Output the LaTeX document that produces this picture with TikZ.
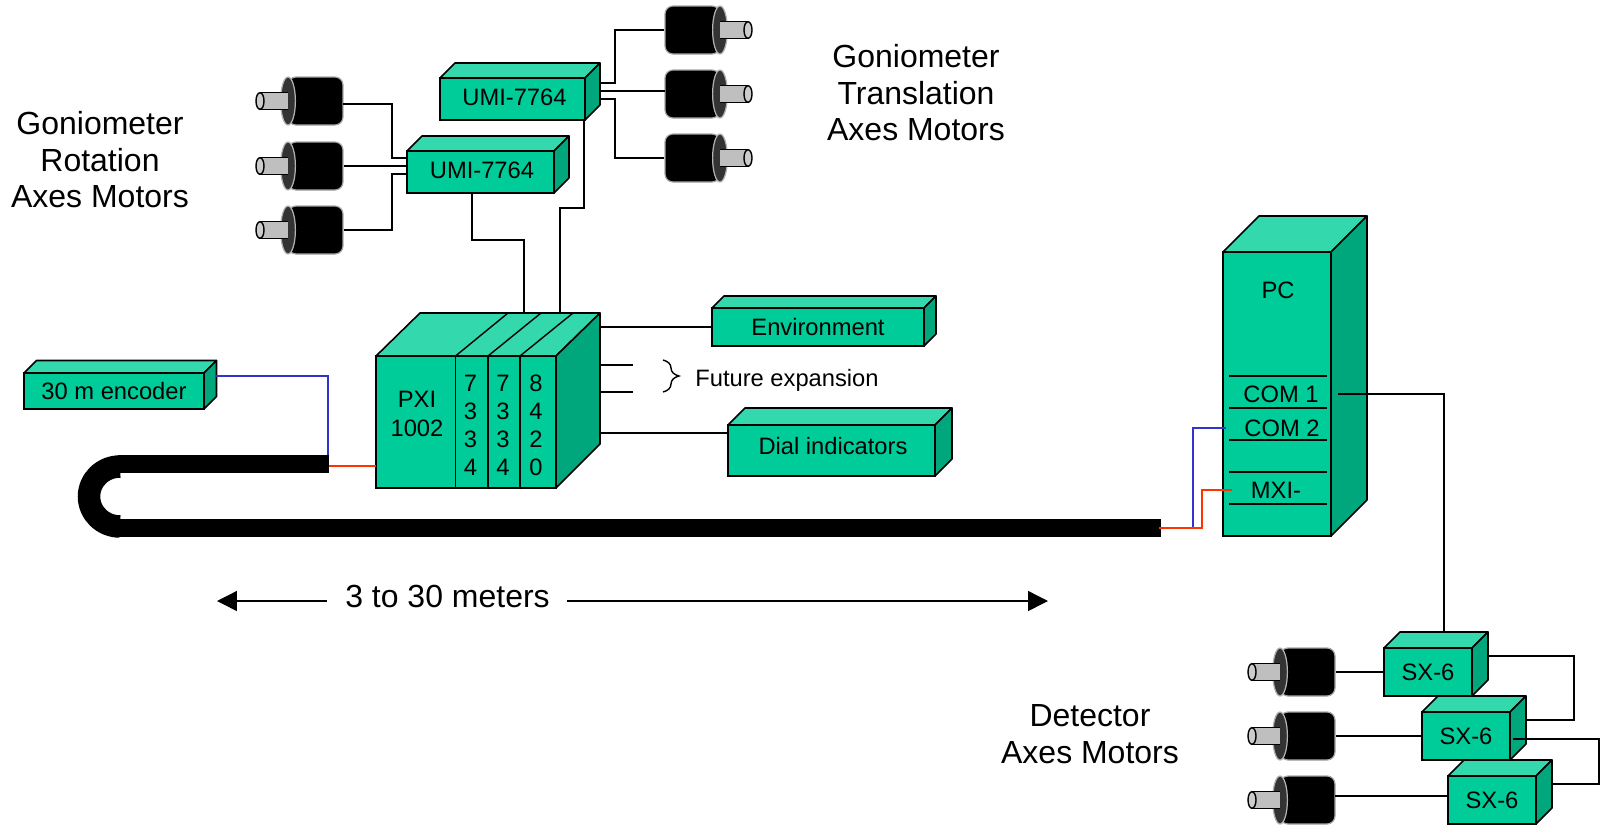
\documentclass[tikz,border=0pt]{standalone}
\usepackage{fontspec}
\setmainfont{Liberation Sans}
\usetikzlibrary{positioning, shapes, arrows.meta, decorations.pathreplacing}

\definecolor{boxfront}{HTML}{00CC99}
\definecolor{boxtop}{HTML}{33D9AD}
\definecolor{boxside}{HTML}{00A67C}
\definecolor{wirered}{HTML}{FF3300}
\definecolor{wireblue}{HTML}{3333CC}

% name, left, top, width, height, depth, text
\newcommand{\unitbox}[7]{
    \node[frontface, minimum width=#4*0.02cm, minimum height=#5*0.02cm] (#1) at (#2+#4/2,#3+#5/2) {#7};
    \draw[topface] (#1.north west) -- ++(#6,-#6) -- ++(#4,0) -- (#1.north east) -- cycle;
    \draw[sideface] (#1.north east) -- ++(#6,-#6) -- ++(0,#5) -- (#1.south east) -- cycle;
}
% name, face x, centre y, direction (1 = shaft to the left, -1 = shaft to the right)
\newcommand{\motor}[4]{
    \begin{scope}[shift={(#2,#3)}, xscale=#4]
        \node[motorbody] (#1) at (27.5,0) {};
        \draw[motorface] (0,0) ellipse [x radius=7.4, y radius=24];
        \fill[black!25] (0,-8.3) rectangle (-28,8.3);
        \draw[motorshaft] (0,-8.3) -- (-28,-8.3);
        \draw[motorshaft] (0,8.3) -- (-28,8.3);
        \draw[motorshaft, fill=black!20] (-28,0) ellipse [x radius=4, y radius=8.3];
    \end{scope}
}

\begin{document}
\begin{tikzpicture}[x=0.02cm, y=-0.02cm,
    every node/.style={font=\fontsize{13.5pt}{16pt}\selectfont},
    frontface/.style={draw, fill=boxfront, line width=0.9pt, inner sep=0pt, outer sep=0pt, align=center},
    topface/.style={draw, fill=boxtop, line width=0.9pt, line join=round},
    sideface/.style={draw, fill=boxside, line width=0.9pt, line join=round},
    motorbody/.style={draw=black!35, fill=black, line width=0.7pt, rounded corners=0.16cm, minimum width=1.1cm, minimum height=0.96cm, inner sep=0pt},
    motorface/.style={draw=black!30, fill=black!80, line width=0.7pt},
    motorshaft/.style={line width=0.8pt},
    wire/.style={line width=0.8pt},
    digits/.style={align=center},
    bigtext/.style={font=\fontsize{18.2pt}{20.8pt}\selectfont, align=center},
    cable/.style={line width=0.36cm}]
    \useasboundingbox (0,0) rectangle (1606,826);

    % Labels
    \node[bigtext] (rotlabel) at (100,160) {Goniometer\\Rotation\\Axes Motors};
    \node[bigtext] (translabel) at (916,93) {Goniometer\\Translation\\Axes Motors};
    \node[bigtext] (detlabel) at (1090,734) {Detector\\Axes Motors};
    \node[bigtext] (span) at (447.5,596) {3 to 30 meters};
    \node (future) at (787,380) {Future expansion};

    % Motion controllers
    \unitbox{umiA}{440}{78}{145}{42}{15}{}
    \unitbox{umiB}{407}{151}{147}{42}{15}{}
    \node (umiAlabel) at (514.5,97) {UMI-7764};
    \node (umiBlabel) at (482,170) {UMI-7764};

    % Motors
    \motor{mrotA}{288}{101}{1}
    \motor{mrotB}{288}{166}{1}
    \motor{mrotC}{288}{230}{1}
    \motor{mtransA}{720}{30}{-1}
    \motor{mtransB}{720}{94}{-1}
    \motor{mtransC}{720}{158}{-1}
    \motor{mdetA}{1280}{672}{1}
    \motor{mdetB}{1280}{736}{1}
    \motor{mdetC}{1280}{800}{1}

    % PXI chassis
    \node[frontface, minimum width=79.5*0.02cm, minimum height=132*0.02cm] (pxi) at (415.75,422) {};
    \node[frontface, minimum width=32.5*0.02cm, minimum height=132*0.02cm, right=0pt of pxi] (slotA) {};
    \node[frontface, minimum width=32*0.02cm, minimum height=132*0.02cm, right=0pt of slotA] (slotB) {};
    \node[frontface, minimum width=36*0.02cm, minimum height=132*0.02cm, right=0pt of slotB] (slotC) {};
    \node[align=center] (pxilabel) at (417,414) {PXI\\1002};
    \node[digits] (slotAtext) at (470.5,425.5) {7\\3\\3\\4};
    \node[digits] (slotBtext) at (503,425.5) {7\\3\\3\\4};
    \node[digits] (slotCtext) at (536,425.5) {8\\4\\2\\0};
    \draw[topface] (pxi.north west) -- (420,313) -- (600,313) -- (slotC.north east) -- cycle;
    \draw[sideface] (slotC.north east) -- (600,313) -- (600,444) -- (slotC.south east) -- cycle;
    \draw[wire] (slotA.north west) -- (508,313);
    \draw[wire] (slotB.north west) -- (541,313);
    \draw[wire] (slotC.north west) -- (573,313);

    % Attached units
    \unitbox{encoder}{24}{373}{180}{36}{12.5}{30 m encoder}
    \unitbox{environment}{712}{308}{212}{38}{12}{Environment}
    \unitbox{dial}{728}{425}{207}{51}{17}{}
    \node (diallabel) at (833,446) {Dial indicators};

    % PC
    \unitbox{pc}{1223}{252}{108}{284}{36}{}
    \node (pclabel) at (1278,290) {PC};
    \node (com1) at (1281,394) {COM 1};
    \node (com2) at (1282,428) {COM 2};
    \node (mxi) at (1276,490) {MXI-};
    \foreach \y in {376,408,440,472,504} {
        \draw[wire] (1229,\y) -- (1327,\y);
    }

    % Stepper drivers
    \unitbox{sxA}{1384}{648}{88}{48}{16}{SX-6}
    \unitbox{sxB}{1422}{712}{88}{48}{16}{SX-6}
    \unitbox{sxC}{1448}{776}{88}{48}{16}{SX-6}

    % Ports
    \coordinate (umiAa) at (600,83);
    \coordinate (umiAb) at (600,91);
    \coordinate (umiAc) at (600,99);
    \coordinate (umiBa) at (407,158);
    \coordinate (umiBb) at (407,166);
    \coordinate (umiBc) at (407,174);
    \coordinate (pxiA) at (524,313);
    \coordinate (pxiB) at (560,313);
    \coordinate (cableL) at (329,464);
    \coordinate (cableR) at (1161,528);

    % Rotation motors
    \draw[wire] (343,104) -- (392,104) |- (umiBa);
    \draw[wire] (mrotB.east) -- (umiBb);
    \draw[wire] (mrotC.east) -- (392,230) |- (umiBc);

    % Translation motors
    \draw[wire] (umiAa) -- (615,83) |- (mtransA.west);
    \draw[wire] (umiAb) -- (665,91);
    \draw[wire] (umiAc) -- (615,99) |- (mtransC.west);

    % Controllers to chassis
    \draw[wire] (472,193) |- (524,240) -- (pxiA);
    \draw[wire] (584,120) |- (560,208) -- (pxiB);

    % Chassis outputs
    \draw[wire] (600,327) -- (712,327);
    \draw[wire] (600,365) -- (633,365);
    \draw[wire] (600,392) -- (633,392);
    \draw[wire] (600,433) -- (728,433);
    \draw[line width=0.8pt, decorate, decoration={brace, amplitude=0.32cm}] (663,360) -- (663,392);

    % Cable
    \draw[cable] (cableL) -- (118,464);
    \draw[line width=0.45cm] (120,466.5) arc [start angle=90, end angle=270, x radius=0.62cm, y radius=0.6cm];
    \draw[cable] (118,528) -- (cableR);

    % Signal wires
    \draw[wire, wireblue] (216,376) -| (328,455);
    \draw[wire, wirered] (329,466) -- (pxi.west |- 0,466);
    \draw[wire, wireblue] (1193,528) |- (1226,428);
    \draw[wire, wirered] (1159,528) -- (1202,528) |- (1232,490);

    % Detector motors
    \draw[wire] (1338,394) -| (1444,633);
    \draw[wire] (mdetA.east) -- (sxA.west);
    \draw[wire] (mdetB.east) -- (sxB.west);
    \draw[wire] (1335,796) -- (1448,796);
    \draw[wire] (1488,656) -| (1574,720) -- (1526,720);
    \draw[wire] (1513,739) -| (1599,784) -- (1553,784);

    % Span arrows
    \coordinate (spanL) at (217,601);
    \coordinate (spanLa) at (327,601);
    \coordinate (spanRa) at (567,601);
    \coordinate (spanR) at (1048,601);
    \draw[wire, -{Triangle[length=0.4cm, width=0.4cm]}] (spanLa) -- (spanL);
    \draw[wire, -{Triangle[length=0.4cm, width=0.4cm]}] (spanRa) -- (spanR);
\end{tikzpicture}
\end{document}
